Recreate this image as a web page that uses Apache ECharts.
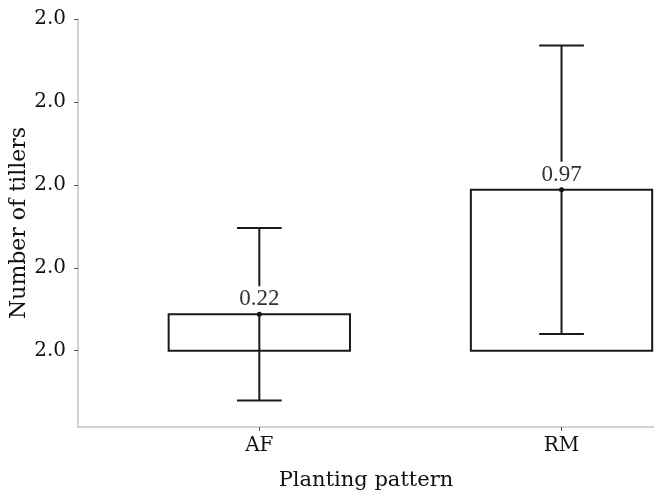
<!DOCTYPE html>
<html>
<head>
<meta charset="utf-8">
<script src="https://cdn.jsdelivr.net/npm/echarts@6/dist/echarts.min.js"></script>
<style>
html,body{margin:0;padding:0;background:#fff;}
#main{width:654px;height:499px;}
</style>
</head>
<body>
<div id="main"></div>
<script>
// Data
const categories = ['AF', 'RM'];
const categoryPositions = [1, 2];
const means = [0.22, 0.97];
const errLow = [-0.30, 0.10];
const errHigh = [0.74, 1.84];
const valueLabels = ['0.22', '0.97'];
const yTickValues = [0, 0.5, 1.0, 1.5, 2.0];
const yTickLabels = ['2.0', '2.0', '2.0', '2.0', '2.0'];

const seriesData = categories.map((c, i) => [categoryPositions[i], means[i], errLow[i], errHigh[i]]);

const chart = echarts.init(document.getElementById('main'), null, {renderer: 'canvas'});
const serif = 'DejaVu Serif';
const option = {
  animation: false,
  backgroundColor: '#fff',
  grid: {left: 78, right: 0, top: 19, bottom: 72, containLabel: false, outerBoundsMode: 'none'},
  xAxis: {
    type: 'value',
    min: 0.4, max: 2.306,
    splitLine: {show: false},
    axisLine: {show: true, onZero: false, lineStyle: {color: '#c4c4c4', width: 1.5}},
    axisTick: {show: true, customValues: categoryPositions, length: 4, lineStyle: {color: '#555'}},
    axisLabel: {
      customValues: categoryPositions,
      formatter: v => categories[categoryPositions.indexOf(Math.round(v))] || '',
      color: '#111', fontFamily: serif, fontSize: 20, margin: 9
    },
    name: 'Planting pattern',
    nameLocation: 'middle',
    nameGap: 43,
    nameMoveOverlap: false,
    nameTextStyle: {color: '#111', fontFamily: serif, fontSize: 21}
  },
  yAxis: {
    type: 'value',
    min: -0.46, max: 2.0,
    splitLine: {show: false},
    axisLine: {show: true, onZero: false, lineStyle: {color: '#c4c4c4', width: 1.5}},
    axisTick: {show: true, customValues: yTickValues, length: 4, lineStyle: {color: '#555'}},
    axisLabel: {
      customValues: yTickValues,
      formatter: v => yTickLabels[yTickValues.indexOf(v)] ?? '',
      color: '#111', fontFamily: serif, fontSize: 20, margin: 12
    },
    name: 'Number of tillers',
    nameLocation: 'middle',
    nameGap: 48,
    nameMoveOverlap: false,
    nameTextStyle: {color: '#111', fontFamily: serif, fontSize: 22}
  },
  series: [{
    type: 'custom',
    data: seriesData,
    encode: {x: 0, y: [1, 2, 3]},
    renderItem: function (params, api) {
      const x = api.value(0), m = api.value(1), lo = api.value(2), hi = api.value(3);
      const label = valueLabels[params.dataIndex];
      const base = api.coord([x, 0]);
      const top = api.coord([x, m]);
      const pLo = api.coord([x, lo]);
      const pHi = api.coord([x, hi]);
      const bw = api.size([0.6, 0])[0];
      const cw = api.size([0.148, 0])[0];
      const stroke = '#1a1a1a';
      return {
        type: 'group',
        children: [
          {type: 'rect', shape: {x: top[0] - bw / 2, y: top[1], width: bw, height: base[1] - top[1]},
           style: {fill: '#fff', stroke: stroke, lineWidth: 2}},
          {type: 'line', shape: {x1: pLo[0], y1: pLo[1], x2: pHi[0], y2: pHi[1]}, style: {stroke: stroke, lineWidth: 2}},
          {type: 'line', shape: {x1: pLo[0] - cw / 2, y1: pLo[1], x2: pLo[0] + cw / 2, y2: pLo[1]}, style: {stroke: stroke, lineWidth: 2}},
          {type: 'line', shape: {x1: pHi[0] - cw / 2, y1: pHi[1], x2: pHi[0] + cw / 2, y2: pHi[1]}, style: {stroke: stroke, lineWidth: 2}},
          {type: 'text', x: top[0], y: top[1] - 15,
           style: {text: label, fill: '#333', font: '23px "Liberation Serif"', align: 'center', verticalAlign: 'middle',
                   backgroundColor: '#fff', padding: [3, 2, 0, 2]}},
          {type: 'circle', shape: {cx: top[0], cy: top[1], r: 2.5}, style: {fill: '#111'}}
        ]
      };
    }
  }]
};
chart.setOption(option);
</script>
</body>
</html>
